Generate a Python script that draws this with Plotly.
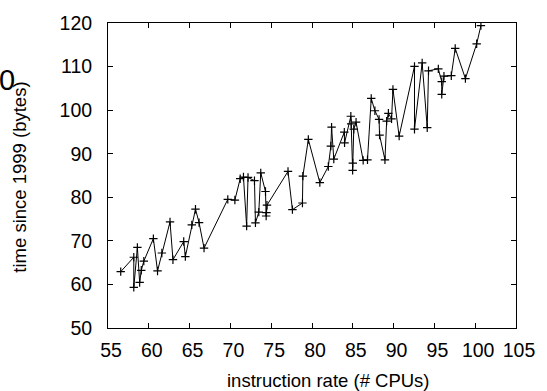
import plotly.graph_objects as go

# instruction rate (# CPUs)
x_vals = [56.56, 58.16, 58.16, 58.60, 58.88, 59.08, 59.39, 60.56, 61.07, 61.60,
          62.60, 62.96, 64.28, 64.48, 65.27, 65.72, 66.16, 66.77, 69.68, 70.55,
          71.20, 71.60, 71.99, 72.16, 72.95, 73.07, 73.48, 73.72, 74.30, 74.38,
          74.42, 74.48, 77.06, 77.60, 78.83, 78.88, 79.55, 80.96, 82.00, 82.31,
          82.40, 82.67, 83.96, 83.99, 84.76, 84.80, 84.98, 85.00, 85.12, 85.40,
          86.27, 86.80, 87.26, 87.71, 88.22, 88.28, 88.94, 89.15, 89.36, 89.75,
          89.92, 90.68, 92.56, 92.56, 93.50, 94.12, 94.28, 95.48, 95.90, 95.90,
          96.17, 97.07, 97.55, 98.80, 100.18, 100.70]
# time since 1999 (bytes)
y_vals = [62.93, 66.24, 59.32, 68.49, 60.45, 63.24, 65.34, 70.52, 63.09, 67.21,
          74.35, 65.68, 69.84, 66.40, 73.67, 77.27, 74.19, 68.33, 79.53, 79.37,
          84.26, 84.64, 73.38, 84.55, 83.81, 74.12, 76.60, 85.61, 81.33, 75.70,
          76.49, 78.18, 85.95, 77.16, 78.69, 84.86, 93.27, 83.36, 87.07, 91.76,
          96.08, 88.76, 94.95, 92.48, 98.60, 96.87, 86.17, 87.86, 95.63, 97.25,
          88.47, 88.60, 102.68, 99.86, 97.88, 94.28, 88.60, 97.48, 99.28, 98.00,
          104.75, 94.05, 110.05, 95.63, 110.83, 95.97, 109.03, 109.48, 106.55, 103.63,
          107.79, 107.91, 114.17, 107.23, 115.23, 119.39]

x_ticks = [55, 60, 65, 70, 75, 80, 85, 90, 95, 100, 105]
y_ticks = [50, 60, 70, 80, 90, 100, 110, 120]

x_title = "instruction rate (# CPUs)"
y_title = "time since 1999 (bytes)"

FONT = "Liberation Sans, Arial, Helvetica, sans-serif"
TICK_SIZE = 19.5
TITLE_SIZE = 18.5

fig = go.Figure()
fig.add_trace(go.Scatter(
    x=x_vals, y=y_vals, mode="lines+markers",
    line=dict(color="black", width=1),
    marker=dict(symbol="cross-thin", size=6, color="black",
                line=dict(color="black", width=1.2)),
    showlegend=False, cliponaxis=True,
))

W, H = 547, 391
L, R, T, B = 108, 23, 17, 63
pw = W - L - R
ph = H - T - B

axis_common = dict(
    showgrid=False, zeroline=False, showline=True, linecolor="black",
    linewidth=1, mirror="ticks", ticks="inside", ticklen=5,
    tickcolor="black", tickwidth=1,
    tickfont=dict(family=FONT, size=TICK_SIZE, color="black"),
)
fig.update_xaxes(range=[55, 105], tickvals=x_ticks, ticklabelstandoff=5,
                 ticklabelshift=3, **axis_common)
fig.update_yaxes(range=[50, 120], tickvals=y_ticks, ticklabelstandoff=11,
                 **axis_common)

def px_x(p):
    return (p - L) / pw

def px_y(p):
    return (H - B - p) / ph

fig.add_annotation(text=x_title, xref="paper", yref="paper",
                   x=px_x(332.5), y=px_y(382), xanchor="center", yanchor="middle",
                   showarrow=False, font=dict(family=FONT, size=TITLE_SIZE, color="black"))
fig.add_annotation(text=y_title, xref="paper", yref="paper",
                   x=px_x(18), y=px_y(174), xanchor="center", yanchor="middle",
                   textangle=-90, showarrow=False,
                   font=dict(family=FONT, size=TITLE_SIZE, color="black"))
fig.add_annotation(text="0", xref="paper", yref="paper",
                   x=px_x(5), y=px_y(75), xanchor="center", yanchor="middle",
                   showarrow=False, font=dict(family=FONT, size=29, color="black"))

fig.update_layout(
    width=W, height=H,
    margin=dict(l=L, r=R, t=T, b=B, pad=0),
    paper_bgcolor="white", plot_bgcolor="white",
    font=dict(family=FONT, color="black"),
)

fig.write_html("out.html")
